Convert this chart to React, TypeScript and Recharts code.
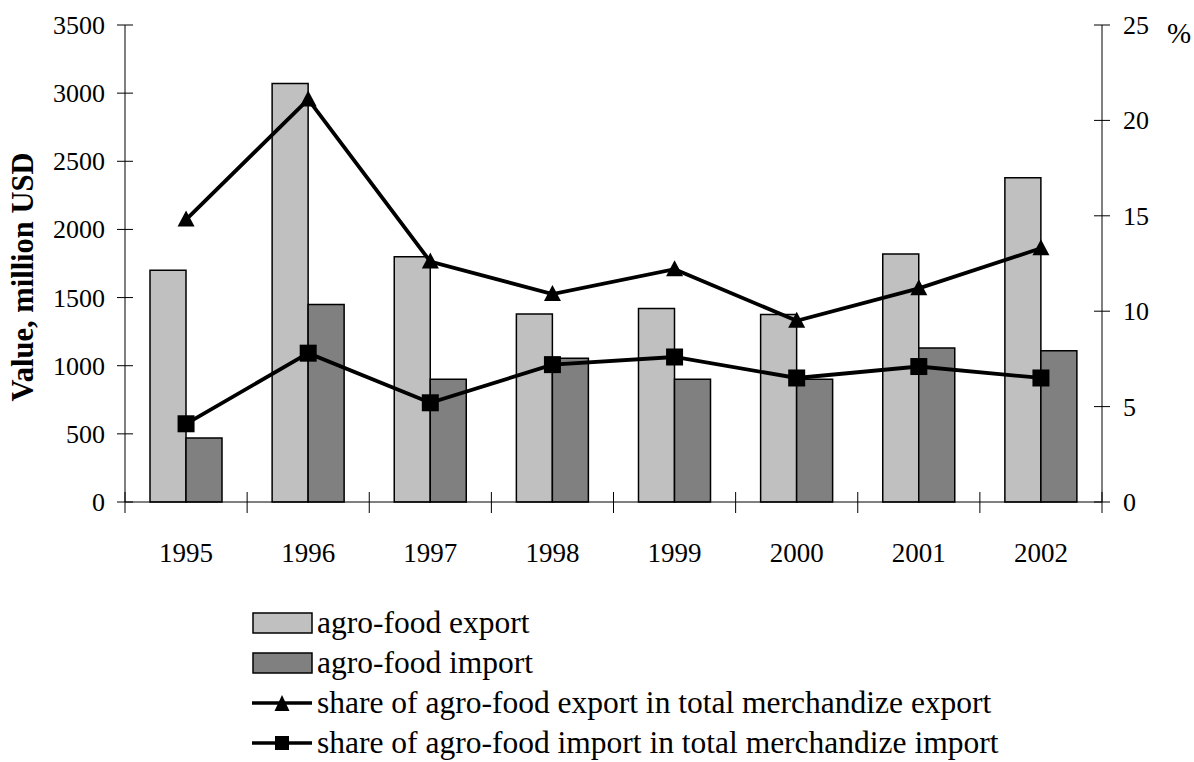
import React from "react";
import { ComposedChart, Bar, Line, XAxis, YAxis, Legend } from "recharts";

const years = ["1995", "1996", "1997", "1998", "1999", "2000", "2001", "2002"];
const exportValues = [1700, 3070, 1800, 1380, 1420, 1375, 1820, 2380];
const importValues = [470, 1450, 900, 1055, 900, 900, 1130, 1110];
const exportShare = [14.8, 21.1, 12.6, 10.9, 12.2, 9.5, 11.2, 13.3];
const importShare = [4.1, 7.8, 5.2, 7.2, 7.6, 6.5, 7.1, 6.5];
const leftTicks = [0, 500, 1000, 1500, 2000, 2500, 3000, 3500];
const rightTicks = [0, 5, 10, 15, 20, 25];

const data = years.map((year, i) => ({
  year,
  exp: exportValues[i],
  imp: importValues[i],
  expShare: exportShare[i],
  impShare: importShare[i],
}));

const FONT = "Liberation Serif, Times New Roman, Times, serif";
const W = 1194;
const H = 762;
const PLOT_LEFT = 125;
const PLOT_RIGHT = 1102;
const PLOT_TOP = 25;
const PLOT_BOTTOM = 502;

const legendOrder = ["exp", "imp", "expShare", "impShare"];

function Triangle({ cx, cy, size = 17 }: { cx: number; cy: number; size?: number }) {
  const h = size * 0.5;
  return <path d={`M${cx},${cy - 9} L${cx + h},${cy + 7} L${cx - h},${cy + 7} Z`} fill="#000" />;
}

function Square({ cx, cy, size = 17 }: { cx: number; cy: number; size?: number }) {
  return <rect x={cx - size / 2} y={cy - size / 2} width={size} height={size} fill="#000" />;
}

const LeftTick = (props: any) => {
  const { y, payload } = props;
  return (
    <g>
      <line x1={PLOT_LEFT - 8} x2={PLOT_LEFT + 8} y1={y} y2={y} stroke="#000" />
      <text x={PLOT_LEFT - 20} y={y} dy={9} textAnchor="end" style={{ fontFamily: FONT }} fontSize={26} fill="#000">
        {payload.value}
      </text>
    </g>
  );
};

const RightTick = (props: any) => {
  const { y, payload } = props;
  return (
    <g>
      <line x1={PLOT_RIGHT - 8} x2={PLOT_RIGHT + 8} y1={y} y2={y} stroke="#000" />
      <text x={PLOT_RIGHT + 21} y={y} dy={9} textAnchor="start" style={{ fontFamily: FONT }} fontSize={26} fill="#000">
        {payload.value}
      </text>
    </g>
  );
};

const XTick = (props: any) => {
  const { x, payload, index } = props;
  const band = (PLOT_RIGHT - PLOT_LEFT) / years.length;
  const left = x - band / 2;
  return (
    <g>
      <line x1={left} x2={left} y1={PLOT_BOTTOM - 10} y2={PLOT_BOTTOM + 11} stroke="#000" />
      {index === years.length - 1 && (
        <line x1={x + band / 2} x2={x + band / 2} y1={PLOT_BOTTOM - 10} y2={PLOT_BOTTOM + 11} stroke="#000" />
      )}
      <text x={x} y={562} textAnchor="middle" style={{ fontFamily: FONT }} fontSize={27} fill="#000">
        {payload.value}
      </text>
    </g>
  );
};

const LegendContent = (props: any) => {
  const items = [...(props.payload || [])].sort(
    (a: any, b: any) => legendOrder.indexOf(a.dataKey) - legendOrder.indexOf(b.dataKey)
  );
  return (
    <div>
      {items.map((entry: any) => (
        <div key={entry.dataKey} style={{ display: "flex", alignItems: "center", height: 40 }}>
          <svg width={62} height={40} style={{ display: "block" }}>
            {entry.dataKey === "exp" || entry.dataKey === "imp" ? (
              <rect x={1} y={10} width={59} height={20} fill={entry.dataKey === "exp" ? "#C0C0C0" : "#808080"} stroke="#000" strokeWidth={1.5} />
            ) : (
              <g>
                <line x1={0} x2={60} y1={20} y2={20} stroke="#000" strokeWidth={3.5} />
                {entry.dataKey === "expShare" ? <Triangle cx={30} cy={21} size={15} /> : <Square cx={30} cy={20} size={14} />}
              </g>
            )}
          </svg>
          <span style={{ fontFamily: FONT, fontSize: 31.5, color: "#000", marginLeft: 3, whiteSpace: "nowrap", lineHeight: "40px" }}>
            {entry.value}
          </span>
        </div>
      ))}
    </div>
  );
};

export default function App() {
  return (
    <div style={{ position: "absolute", left: 0, top: 0, width: W, height: H, background: "#fff", fontFamily: FONT }}>
      <ComposedChart
        width={W}
        height={H}
        data={data}
        margin={{ top: PLOT_TOP, right: 0, bottom: 0, left: 0 }}
        barCategoryGap={25}
        barGap={0}
        style={{ fontFamily: FONT }}
      >
        <XAxis
          dataKey="year"
          height={H - PLOT_BOTTOM}
          interval={0}
          axisLine={{ stroke: "#000" }}
          tickLine={false}
          tick={(p: any) => <XTick {...p} />}
        />
        <YAxis
          yAxisId="left"
          width={PLOT_LEFT}
          domain={[0, 3500]}
          ticks={leftTicks}
          interval={0}
          axisLine={{ stroke: "#000" }}
          tickLine={false}
          tick={(p: any) => <LeftTick {...p} />}
          label={{
            content: () => (
              <text
                transform="translate(33,277) rotate(-90)"
                textAnchor="middle"
                style={{ fontFamily: FONT }}
                fontWeight="bold"
                fontSize={30.5}
                fill="#000"
              >
                Value, million USD
              </text>
            ),
          }}
        />
        <YAxis
          yAxisId="right"
          orientation="right"
          width={W - PLOT_RIGHT}
          domain={[0, 25]}
          ticks={rightTicks}
          interval={0}
          axisLine={{ stroke: "#000" }}
          tickLine={false}
          tick={(p: any) => <RightTick {...p} />}
          label={{
            content: () => (
              <text x={1167} y={43} style={{ fontFamily: FONT }} fontSize={29} fill="#000">
                %
              </text>
            ),
          }}
        />
        <Bar yAxisId="left" dataKey="exp" name="agro-food export" fill="#C0C0C0" stroke="#000" strokeWidth={1.5} isAnimationActive={false} />
        <Bar yAxisId="left" dataKey="imp" name="agro-food import" fill="#808080" stroke="#000" strokeWidth={1.5} isAnimationActive={false} />
        <Line
          yAxisId="right"
          dataKey="expShare"
          name="share of agro-food export in total merchandize export"
          stroke="#000"
          strokeWidth={3.8}
          isAnimationActive={false}
          dot={(p: any) => <Triangle key={`t${p.index}`} cx={p.cx} cy={p.cy} />}
          activeDot={false}
        />
        <Line
          yAxisId="right"
          dataKey="impShare"
          name="share of agro-food import in total merchandize import"
          stroke="#000"
          strokeWidth={3.8}
          isAnimationActive={false}
          dot={(p: any) => <Square key={`s${p.index}`} cx={p.cx} cy={p.cy} />}
          activeDot={false}
        />
        <Legend
          layout="vertical"
          align="center"
          verticalAlign="middle"
          wrapperStyle={{ left: 252, top: 603, width: 800, height: 160 }}
          content={(p: any) => <LegendContent {...p} />}
        />
      </ComposedChart>
    </div>
  );
}
